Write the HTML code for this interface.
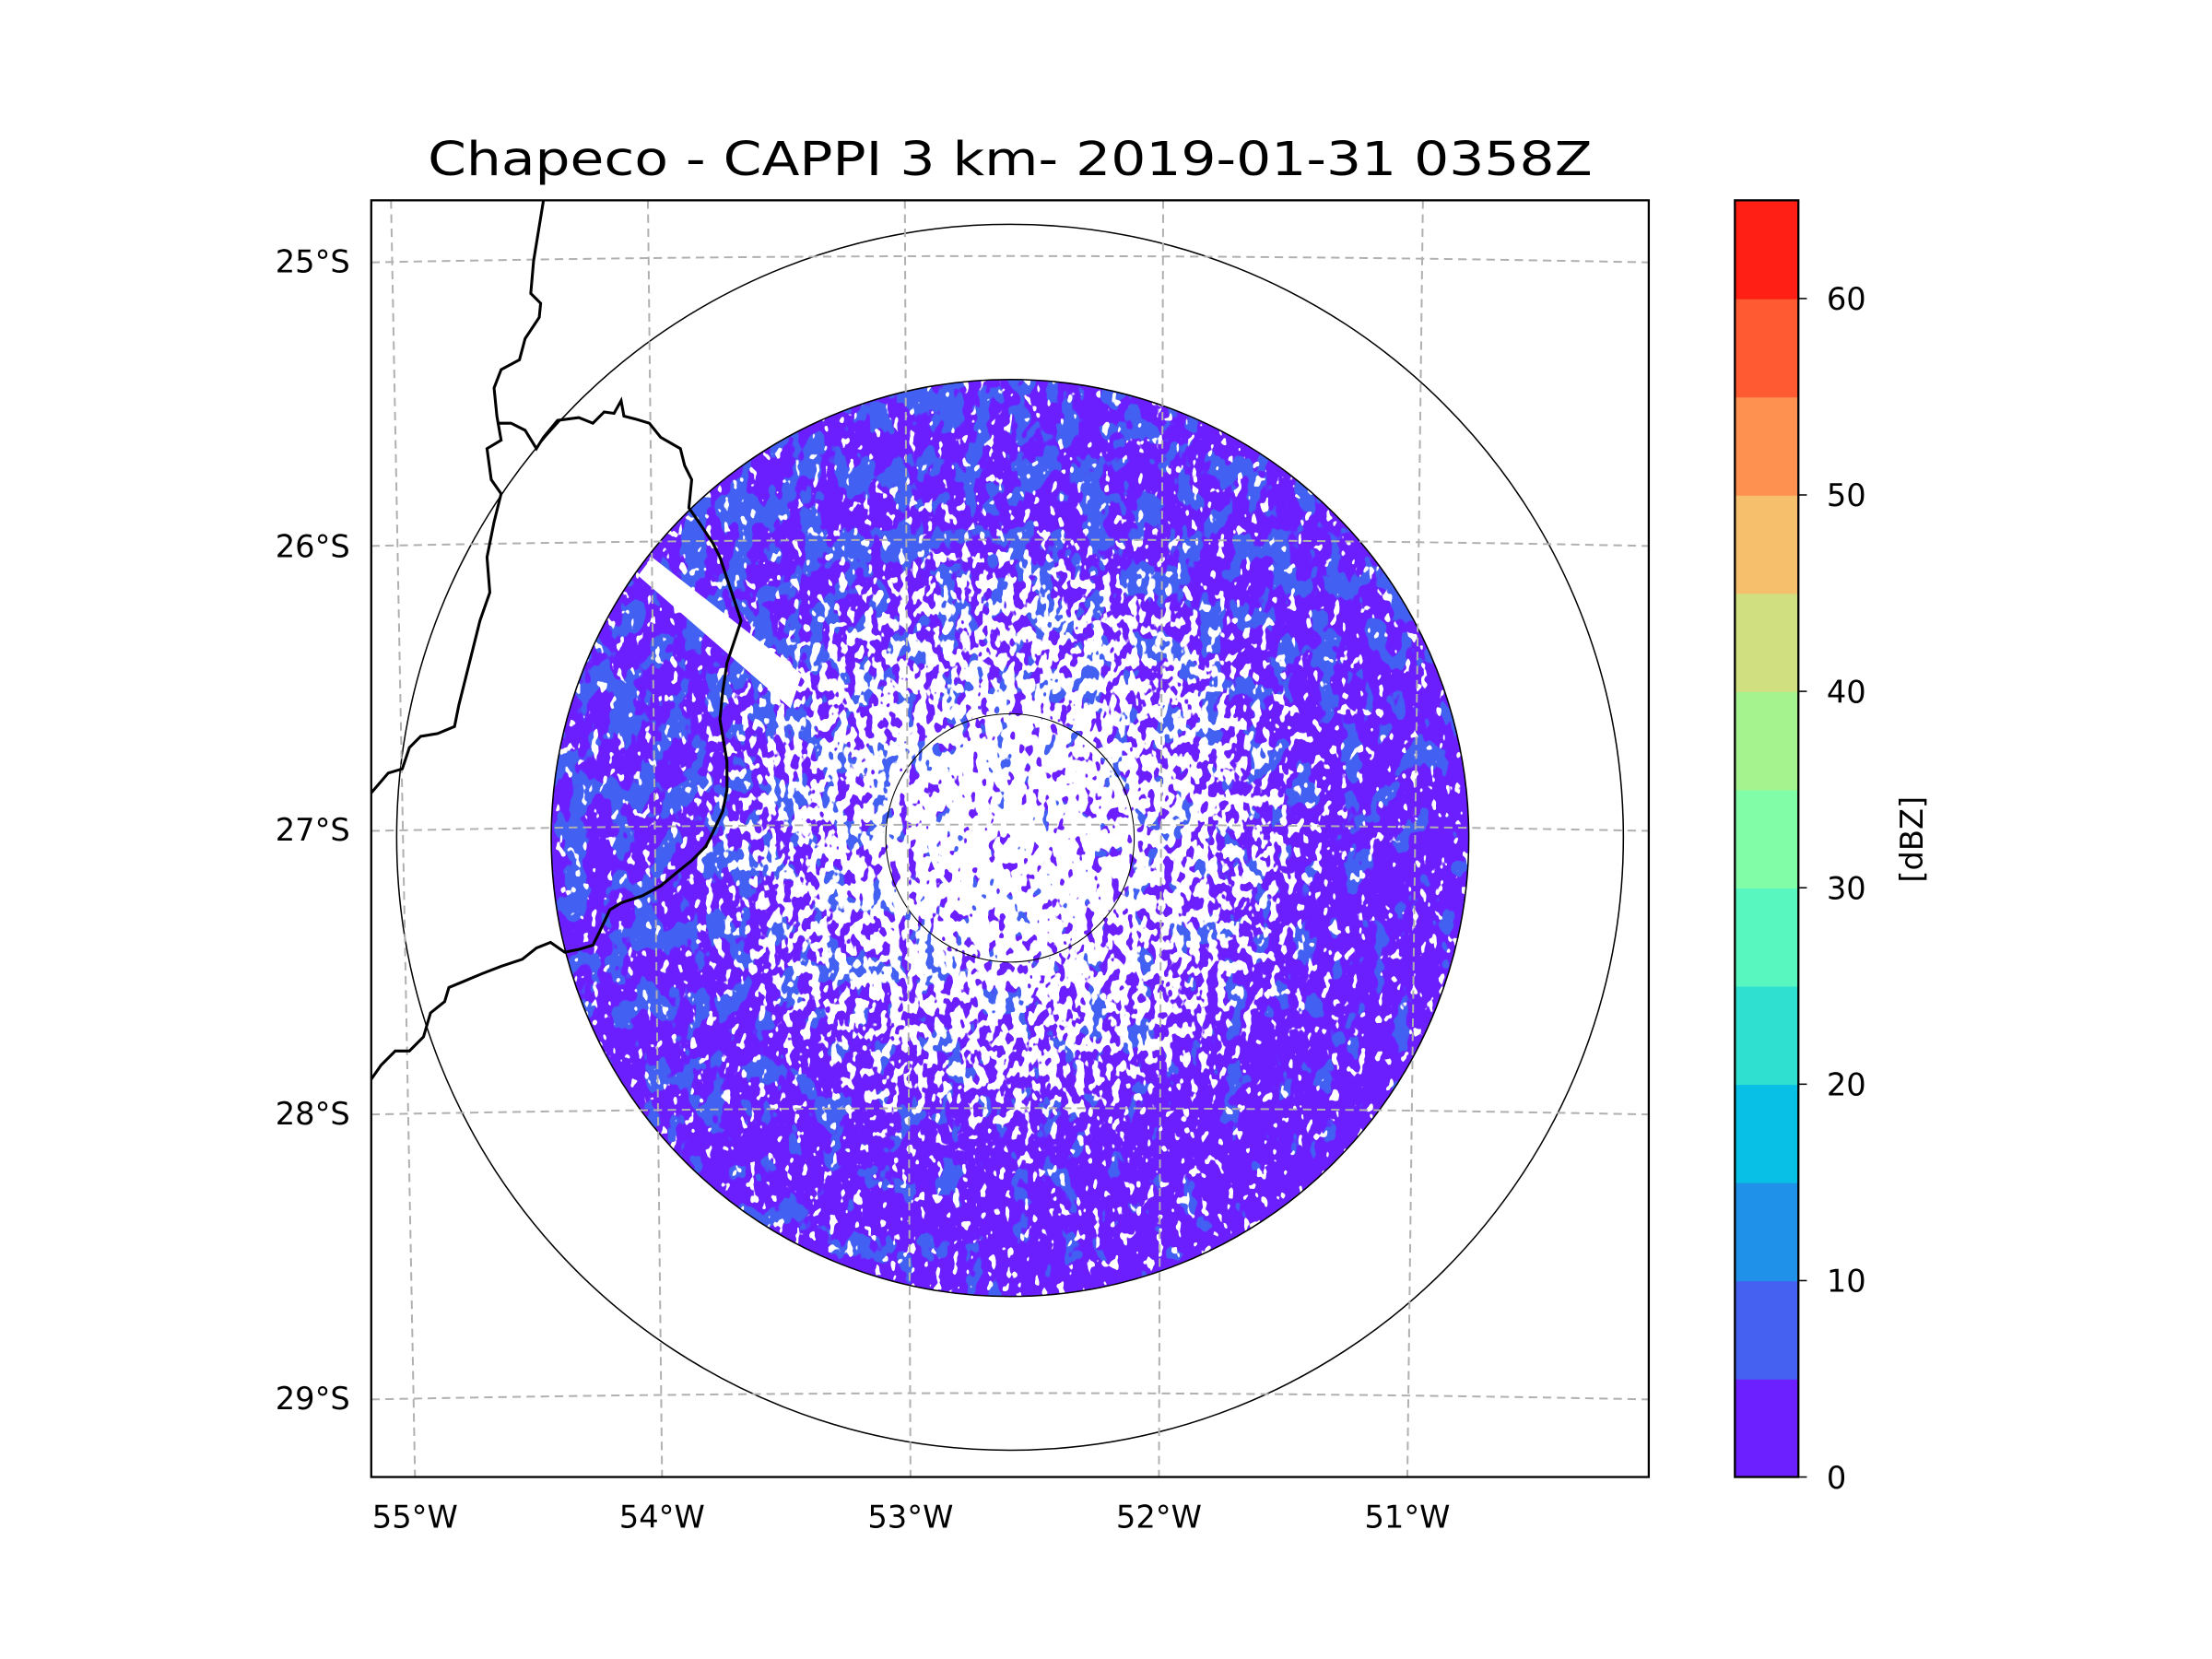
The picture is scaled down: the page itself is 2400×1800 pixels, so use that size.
<!DOCTYPE html>
<html><head><meta charset="utf-8"><style>
html,body{margin:0;padding:0;background:#fff;}
svg{display:block;font-family:"DejaVu Sans","Liberation Sans",sans-serif;}
</style></head><body>
<svg width="2400" height="1800" viewBox="0 0 1567 1176" preserveAspectRatio="none">
<defs>
  <clipPath id="diskClip"><circle cx="715.5" cy="594" r="325"/></clipPath>
  <clipPath id="axClip"><rect x="263" y="142" width="905" height="905"/></clipPath>
  <radialGradient id="whiteBias" cx="715.5" cy="594" r="325" gradientUnits="userSpaceOnUse">
    <stop offset="0" stop-color="rgb(110,110,110)"/>
    <stop offset="0.2" stop-color="rgb(100,100,100)"/>
    <stop offset="0.32" stop-color="rgb(82,82,82)"/>
    <stop offset="0.55" stop-color="rgb(62,62,62)"/>
    <stop offset="0.7" stop-color="rgb(30,30,30)"/>
    <stop offset="0.85" stop-color="rgb(20,20,20)"/>
    <stop offset="1" stop-color="rgb(24,24,24)"/>
  </radialGradient>
  <linearGradient id="southBias" x1="0" y1="0" x2="0" y2="1">
    <stop offset="0" stop-color="rgb(0,0,0)"/>
    <stop offset="0.72" stop-color="rgb(0,0,0)"/>
    <stop offset="0.88" stop-color="rgb(26,26,26)"/>
    <stop offset="1" stop-color="rgb(24,24,24)"/>
  </linearGradient>
  <linearGradient id="blueBias" x1="0" y1="0" x2="0.6" y2="1">
    <stop offset="0" stop-color="rgb(70,70,70)"/>
    <stop offset="0.5" stop-color="rgb(55,55,55)"/>
    <stop offset="1" stop-color="rgb(25,25,25)"/>
  </linearGradient>
  <filter id="whiteSpeck" x="0" y="0" width="1" height="1" color-interpolation-filters="sRGB">
    <feTurbulence type="fractalNoise" baseFrequency="0.16 0.11" numOctaves="2" seed="4" result="n0"/>
    <feColorMatrix in="n0" type="matrix" values="1 0 0 0 0  0 1 0 0 0  0 0 1 0 0  0 0 0 0 1" result="n"/>
    <feComposite in="n" in2="SourceGraphic" operator="arithmetic" k2="1" k3="1" k4="-0.25" result="s"/>
    <feColorMatrix in="s" type="matrix" values="0 0 0 0 1  0 0 0 0 1  0 0 0 0 1  30 0 0 0 -15"/>
  </filter>
  <filter id="blueSpeck" x="0" y="0" width="1" height="1" color-interpolation-filters="sRGB">
    <feTurbulence type="fractalNoise" baseFrequency="0.06 0.04" numOctaves="3" seed="11" result="n0"/>
    <feColorMatrix in="n0" type="matrix" values="1 0 0 0 0  0 1 0 0 0  0 0 1 0 0  0 0 0 0 1" result="n"/>
    <feComposite in="n" in2="SourceGraphic" operator="arithmetic" k2="1" k3="1" k4="-0.25" result="s"/>
    <feColorMatrix in="s" type="matrix" values="0 0 0 0 0.26  0 0 0 0 0.38  0 0 0 0 0.95  30 0 0 0 -15"/>
  </filter>
</defs>

<text x="715.5" y="124" font-size="33" text-anchor="middle" textLength="825" lengthAdjust="spacingAndGlyphs">Chapeco - CAPPI 3 km- 2019-01-31 0358Z</text>

<g clip-path="url(#diskClip)">
  <rect x="390" y="268" width="652" height="652" fill="#6b1fff"/>
  <rect x="390" y="268" width="652" height="652" fill="url(#blueBias)" filter="url(#blueSpeck)"/>
  <rect x="390" y="268" width="652" height="652" fill="url(#whiteBias)" filter="url(#whiteSpeck)"/>
  <rect x="390" y="268" width="652" height="652" fill="url(#southBias)" filter="url(#whiteSpeck)"/>
  <polygon points="452,408 462,395 568,478 560,502" fill="#fff"/>
  <polygon points="390,300 452,395 430,440 390,450" fill="#fff"/>
  <g fill="none" stroke="#fff" stroke-width="3">
    <path d="M672,560 A50,50 0 0 0 672,628"/>
    <path d="M681,566 A40,40 0 0 0 681,622"/>
  </g>
</g>

<g fill="none" stroke="#000" stroke-width="1" clip-path="url(#axClip)">
  <circle cx="715.5" cy="593.5" r="434.5"/>
  <circle cx="715.5" cy="594" r="325"/>
  <circle cx="715.5" cy="594" r="88" stroke-width="0.7"/>
</g>

<g fill="none" stroke="#b0b0b0" stroke-width="1.3" stroke-dasharray="6,4" clip-path="url(#axClip)">
  <line x1="277" y1="142" x2="294" y2="1047"/>
  <line x1="459" y1="142" x2="469" y2="1047"/>
  <line x1="641" y1="142" x2="645" y2="1047"/>
  <line x1="824" y1="142" x2="821" y2="1047"/>
  <line x1="1008" y1="142" x2="997" y2="1047"/>
  <path d="M263,186 Q715,177 1168,186"/>
  <path d="M263,387 Q715,378 1168,387"/>
  <path d="M263,589 Q715,580 1168,589"/>
  <path d="M263,790 Q715,781 1168,790"/>
  <path d="M263,992 Q715,983 1168,992"/>
</g>

<g fill="none" stroke="#000" stroke-width="2" clip-path="url(#axClip)">
  <path d="M385,142 L378,185 L376,208 L383,215 L382,225 L372,240 L368,255 L355,262 L350,275 L352,295 L355,312 L345,318 L348,340 L355,350 L350,370 L345,395 L347,420 L340,440 L335,460 L330,480 L325,500 L322,515 L310,520 L298,522 L290,530 L285,545 L275,548 L263,562"/>
  <path d="M352,300 L362,300 L372,305 L380,318 L385,310 L395,298 L410,296 L420,300 L428,292 L435,293 L440,284 L442,295 L450,297 L460,300 L468,310 L482,318 L485,330 L490,340 L488,360 L495,370 L505,385 L510,395 L515,410 L520,425 L525,440 L520,455 L515,470 L512,490 L510,510 L515,540 L515,560 L512,575 L505,590 L500,600 L490,610 L480,618 L468,628 L455,635 L440,640 L432,645 L425,660 L420,670 L410,673 L400,675 L390,668 L380,672 L370,680 L355,685 L342,690 L330,695 L318,700 L315,710 L305,718 L300,735 L290,745 L280,745 L270,755 L263,765"/>
</g>

<rect x="263" y="142" width="905" height="905" fill="none" stroke="#000" stroke-width="1.5"/>

<g font-size="22" text-anchor="end">
  <text x="248" y="193">25°S</text>
  <text x="248" y="395">26°S</text>
  <text x="248" y="596">27°S</text>
  <text x="248" y="797">28°S</text>
  <text x="248" y="999">29°S</text>
</g>
<g font-size="22" text-anchor="middle">
  <text x="294" y="1083">55°W</text>
  <text x="469" y="1083">54°W</text>
  <text x="645" y="1083">53°W</text>
  <text x="821" y="1083">52°W</text>
  <text x="997" y="1083">51°W</text>
</g>

<g id="cbar"></g>
<text font-size="22" text-anchor="middle" transform="translate(1362,595) rotate(-90)">[dBZ]</text>
</svg>
<script>
const cbLevels = [0,5,10,15,20,25,30,35,40,45,50,55,60,65];
const cbColors = ["#6c1fff","#4461f2","#2091e9","#08c0e6","#2fe0d0","#58f7c0","#82fda7","#a5f38f","#d0e080","#f5bf6b","#ff9150","#ff5a32","#ff1f14"];
const cbTicks = [0,10,20,30,40,50,60];
(function(){
  const NS="http://www.w3.org/2000/svg";
  const g=document.getElementById('cbar');
  const x0=1229,w=45,yTop=142,yBot=1047;
  const lo=cbLevels[0], hi=cbLevels[cbLevels.length-1];
  const y=v=>yBot-(v-lo)/(hi-lo)*(yBot-yTop);
  for(let i=0;i<cbColors.length;i++){
    const r=document.createElementNS(NS,'rect');
    r.setAttribute('x',x0);r.setAttribute('y',y(cbLevels[i+1]));
    r.setAttribute('width',w);r.setAttribute('height',y(cbLevels[i])-y(cbLevels[i+1])+0.5);
    r.setAttribute('fill',cbColors[i]);
    
    
    g.appendChild(r);
  }
  const f=document.createElementNS(NS,'rect');
  f.setAttribute('x',x0);f.setAttribute('y',yTop);f.setAttribute('width',w);f.setAttribute('height',yBot-yTop);
  f.setAttribute('fill','none');f.setAttribute('stroke','#000');f.setAttribute('stroke-width','1.5');
  
  
  g.appendChild(f);
  cbTicks.forEach(v=>{
    const l=document.createElementNS(NS,'line');
    l.setAttribute('x1',x0+w);l.setAttribute('x2',x0+w+6);l.setAttribute('y1',y(v));l.setAttribute('y2',y(v));
    l.setAttribute('stroke','#000');
    
    
    g.appendChild(l);
    const t=document.createElementNS(NS,'text');
    t.setAttribute('x',1294);t.setAttribute('y',y(v)+8);t.setAttribute('font-size','22');
    t.textContent=v;
    
    
    g.appendChild(t);
  });
})();
</script>
</body></html>
